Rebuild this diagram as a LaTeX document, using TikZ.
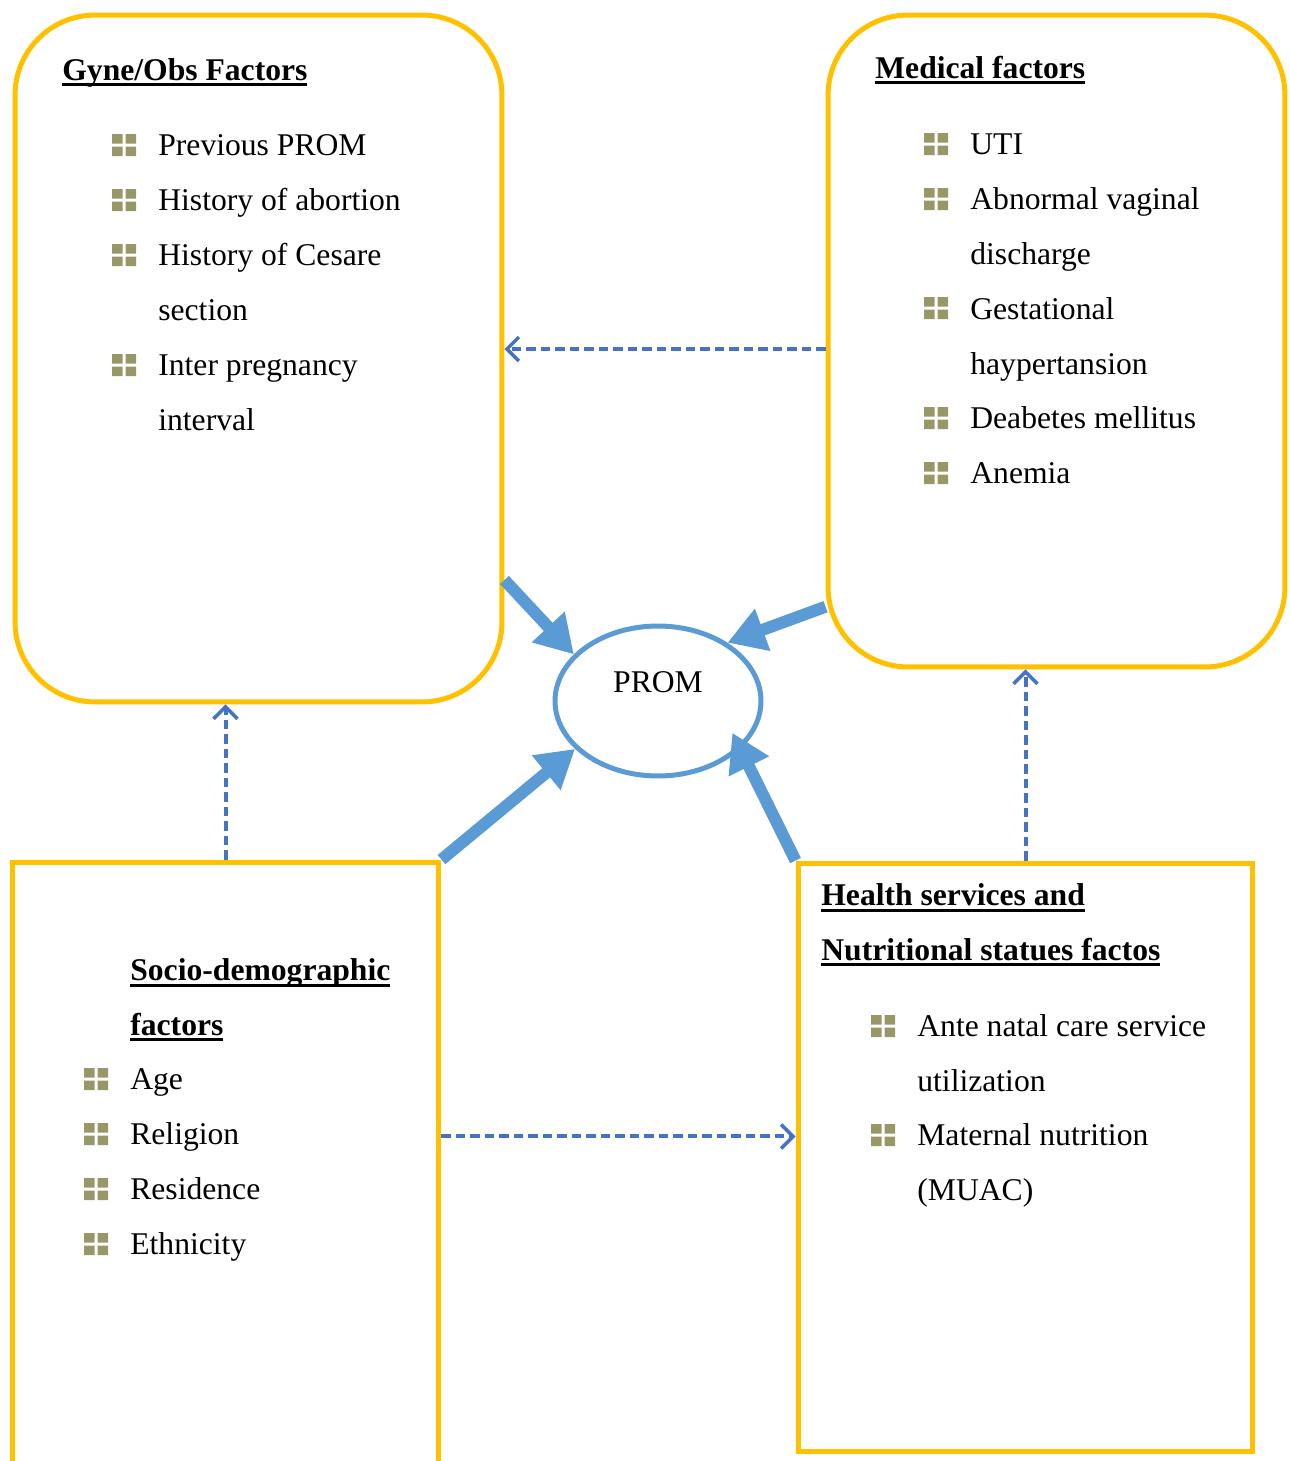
\documentclass[tikz,border=0pt]{standalone}
\usepackage{fontspec}
\setmainfont{Liberation Serif}
\usetikzlibrary{arrows.meta, positioning, shapes.geometric}

\definecolor{boxgold}{HTML}{FFC000}
\definecolor{promblue}{HTML}{5B9BD5}
\definecolor{dashblue}{HTML}{4472C4}
\definecolor{bulletolive}{RGB}{152,151,104}

\newcommand{\listfont}{\fontsize{18}{31.2}\selectfont}
\newsavebox{\titlebox}
\newcommand{\titleline}[1]{\sbox{\titlebox}{#1}\rlap{\rule[-3.6pt]{\wd\titlebox}{1.7pt}}\usebox{\titlebox}}

\tikzset{
  sqbullet/.pic={
    \fill[bulletolive] (-12,-11) rectangle (-1.5,-1.5) (1.5,-11) rectangle (12,-1.5)
                       (-12,1.5) rectangle (-1.5,11) (1.5,1.5) rectangle (12,11);
  }
}

\begin{document}
\begin{tikzpicture}[x=0.02cm, y=-0.02cm,
  roundbox/.style={draw=boxgold, line width=0.1cm, rounded corners=1.6cm},
  squarebox/.style={draw=boxgold, line width=0.1cm},
  boxtitle/.style={anchor=base west, align=left, font=\listfont\bfseries, inner sep=0pt},
  listtext/.style={anchor=base west, align=left, font=\listfont, inner sep=0pt},
  thickarrow/.style={draw=promblue, line width=0.24cm, -{Triangle[width=0.85cm, length=0.75cm]}},
  dasharrow/.style={draw=dashblue, line width=0.08cm, dash pattern=on 0.19cm off 0.1cm,
    -{Straight Barb[length=0.24cm, width=0.48cm, line width=0.07cm]}}]
  \clip (0,0) rectangle (1289,1461);

  % Main boxes
  \node[roundbox, minimum width=9.74cm, minimum height=13.74cm] (gyne) at (258.5,358.5) {};
  \node[roundbox, minimum width=9.14cm, minimum height=13.04cm] (med) at (1056.5,341) {};
  \node[squarebox, minimum width=8.54cm, minimum height=13.16cm] (socio) at (225.5,1191) {};
  \node[squarebox, minimum width=9.10cm, minimum height=11.78cm] (health) at (1025.5,1157.5) {};
  \node[draw=promblue, line width=0.1cm, ellipse, inner sep=0pt,
        minimum width=4.12cm, minimum height=3cm, font=\listfont] (prom) at (658,701) {\raisebox{0.76cm}{PROM}};

  % Gyne/Obs factors (two-line nodes sit on their last baseline)
  \node[boxtitle] (gynetitle) at (62,80) {\titleline{Gyne/Obs Factors}};
  \node[listtext] (g1) at (158,155) {Previous PROM};
  \node[listtext] (g2) at (158,210) {History of abortion};
  \node[listtext] (g3) at (158,320) {History of Cesare\\section};
  \node[listtext] (g4) at (158,430) {Inter pregnancy\\interval};

  % Medical factors
  \node[boxtitle] (medtitle) at (875,78) {\titleline{Medical factors}};
  \node[listtext] (m1) at (970,154) {UTI};
  \node[listtext] (m2) at (970,264) {Abnormal vaginal\\discharge};
  \node[listtext] (m3) at (970,374) {Gestational\\haypertansion};
  \node[listtext] (m4) at (970,428) {Deabetes mellitus};
  \node[listtext] (m5) at (970,483) {Anemia};

  % Socio-demographic factors
  \node[boxtitle] (sociotitle) at (130,1035) {\titleline{Socio-demographic}\\\titleline{factors}};
  \node[listtext] (s1) at (130,1089) {Age};
  \node[listtext] (s2) at (130,1144) {Religion};
  \node[listtext] (s3) at (130,1199) {Residence};
  \node[listtext] (s4) at (130,1254) {Ethnicity};

  % Health services and nutrition
  \node[boxtitle] (healthtitle) at (821,960) {\titleline{Health services and}\\\titleline{Nutritional statues factos}};
  \node[listtext] (h1) at (917,1091) {Ante natal care service\\utilization};
  \node[listtext] (h2) at (917,1200) {Maternal nutrition\\(MUAC)};

  % Bullets
  \foreach \bx/\by in {124/145, 124/200, 124/255, 124/365,
                       936/144, 936/199, 936/308, 936/418, 936/473,
                       96/1079, 96/1134, 96/1189, 96/1244,
                       883/1026, 883/1135}
    \pic at (\bx,\by) {sqbullet};

  % Arrows into PROM
  \draw[thickarrow] (gyne.-42) -- (prom.151);
  \draw[thickarrow] (med.229) -- (prom.40);
  \draw[thickarrow] (socio.north east) -- (prom.210);
  \draw[thickarrow] (health.north west) -- ([shift={(-17,-7)}]prom.-23);

  % Links between factor groups
  \draw[dasharrow] (med.182.5) -- (gyne.east |- med.182.5);
  \draw[dasharrow] (socio.north) -- (socio.north |- gyne.south);
  \draw[dasharrow] (health.north) -- (health.north |- med.south);
  \draw[dasharrow] (socio.east |- s2.west) -- (health.west |- s2.west);
\end{tikzpicture}
\end{document}
